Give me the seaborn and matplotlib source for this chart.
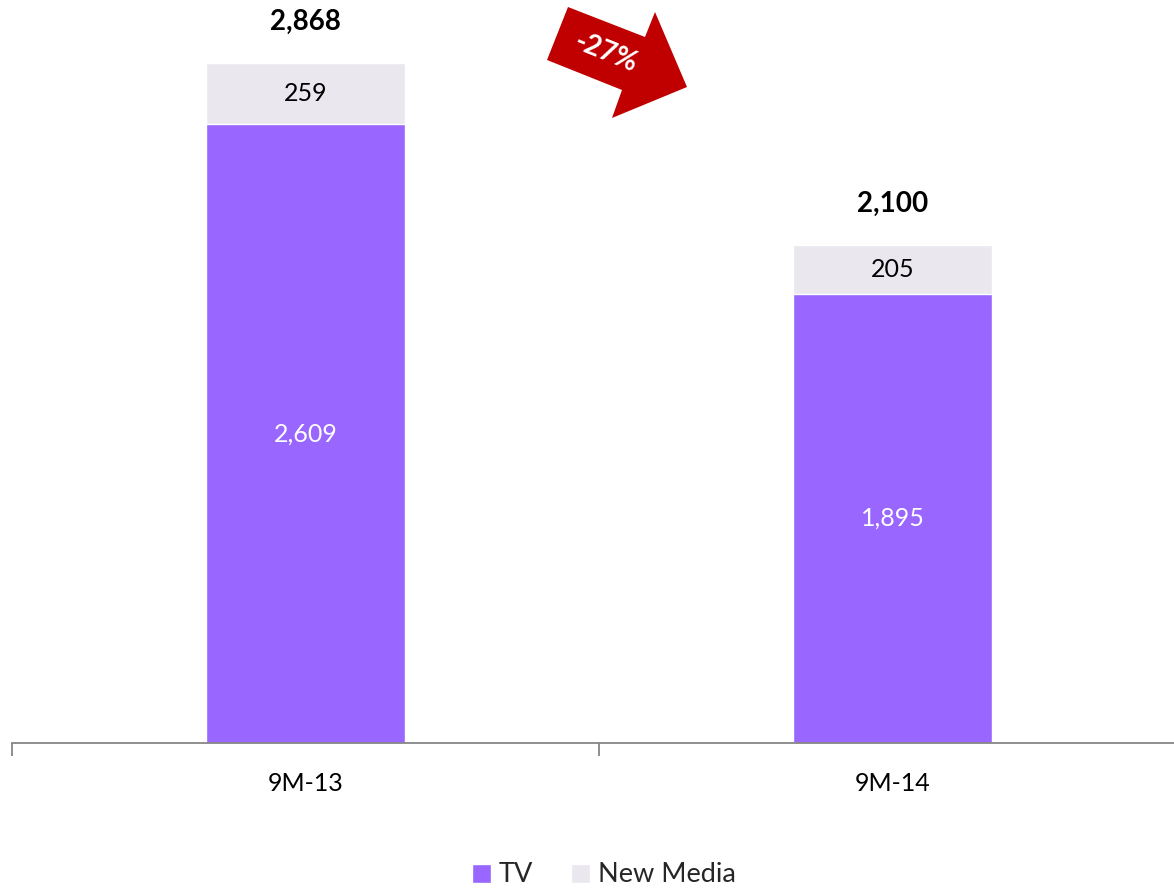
import matplotlib
matplotlib.use("Agg")
import matplotlib.pyplot as plt
import seaborn as sns
import pandas as pd
from matplotlib.patches import Polygon, Patch

categories = ["9M-13", "9M-14"]
tv = [2609, 1895]
new_media = [259, 205]
totals = [2868, 2100]
change_label = "-27%"

TV_COLOR = "#9966FF"
NM_COLOR = "#EAE7EF"

sns.set_theme(style="white")
plt.rcParams['font.family'] = ['Lato', 'DejaVu Sans']

W, H = 1174, 892
fig = plt.figure(figsize=(W / 100, H / 100), dpi=100)
ax = fig.add_axes([12 / W, 149 / H, 1174 / W, 743 / H])

df = pd.DataFrame({"cat": categories, "tv": tv, "nm": new_media, "total": totals})
sns.barplot(data=df, x="cat", y="total", color=NM_COLOR, width=0.34, saturation=1, ax=ax)
sns.barplot(data=df, x="cat", y="tv", color=TV_COLOR, width=0.34, saturation=1, ax=ax)

ax.set_xlim(-0.5, 1.5)
ax.set_ylim(0, 3134)
ax.set_xlabel("")
ax.set_ylabel("")
ax.set_yticks([])
for s in ["top", "right", "left"]:
    ax.spines[s].set_visible(False)
ax.spines["bottom"].set_color("#868686")
ax.spines["bottom"].set_linewidth(1.3)
ax.set_xticks(range(len(categories)))
ax.set_xticklabels(categories, fontsize=18, color="black")
ax.tick_params(axis="x", which="major", bottom=False, length=0, pad=21)
ax.set_xticks([-0.5, 0.5, 1.5], minor=True)
ax.tick_params(axis="x", which="minor", bottom=True, length=9, width=1.3,
               color="#868686", direction="out")

for i in range(len(categories)):
    ax.text(i, tv[i] / 2, f"{tv[i]:,}", ha="center", va="center", color="white", fontsize=18)
    ax.text(i, tv[i] + new_media[i] / 2, f"{new_media[i]:,}", ha="center", va="center",
            color="black", fontsize=18)
    ax.annotate(f"{totals[i]:,}", (i, totals[i]), xytext=(0, 30), textcoords="offset points",
                ha="center", va="center", fontsize=20, fontweight="bold", color="black")

# red arrow (figure pixel coordinates, y measured from top)
pts = [(568, 7), (645, 37), (655, 12), (687, 87), (612, 118), (622, 90), (547, 60)]
poly = Polygon([(x / W, 1 - y / H) for x, y in pts], closed=True, facecolor="#C00000",
               edgecolor="none", transform=fig.transFigure)
fig.patches.append(poly)
fig.text(606 / W, 1 - 53 / H, change_label, rotation=-22, ha="center", va="center",
         color="white", fontsize=20, fontweight="bold")

handles = [Patch(facecolor=TV_COLOR, label="TV"), Patch(facecolor=NM_COLOR, label="New Media")]
fig.legend(handles=handles, loc="center", bbox_to_anchor=(604 / W, 1 - 875 / H), ncol=2,
           frameon=False, fontsize=19.5, handlelength=0.7, handleheight=0.7,
           handletextpad=0.3, columnspacing=1.4)

fig.savefig("out.png", dpi=100)
